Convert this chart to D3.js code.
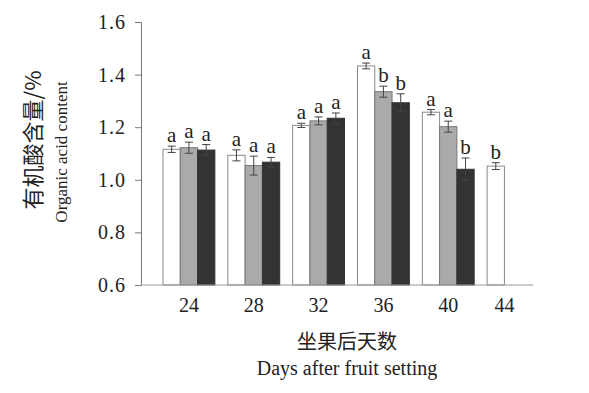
<!DOCTYPE html>
<html>
<head>
<meta charset="utf-8">
<script src="https://cdn.jsdelivr.net/npm/d3@7"></script>
<style>
  body { margin: 0; background: #fff; }
  text { font-family: "Liberation Serif", "Times New Roman", "Noto Sans CJK SC", serif; fill: #222; }
  .cjk { font-family: "Noto Sans CJK SC", serif; }
</style>
</head>
<body>
<svg id="chart" width="589" height="393"></svg>
<script>
// days after fruit setting
const days = ["24", "28", "32", "36", "40", "44"];
const series = ["s1", "s2", "s3"];

// organic acid content, one array per treatment (null = no bar)
const s1Values = [1.116, 1.093, 1.207, 1.433, 1.257, 1.052];
const s2Values = [1.122, 1.054, 1.224, 1.335, 1.202, null];
const s3Values = [1.113, 1.067, 1.234, 1.293, 1.040, null];

// error bars (half width)
const s1Err = [0.012, 0.021, 0.008, 0.011, 0.010, 0.013];
const s2Err = [0.021, 0.036, 0.015, 0.021, 0.021, null];
const s3Err = [0.021, 0.018, 0.020, 0.034, 0.043, null];

// significance letters
const s1Letters = ["a", "a", "a", "a", "a", "b"];
const s2Letters = ["a", "a", "a", "b", "a", null];
const s3Letters = ["a", "a", "a", "b", "b", null];

const yTicks = [0.6, 0.8, 1.0, 1.2, 1.4, 1.6];

const serif = '"Liberation Serif", "Times New Roman", serif';

const svg = d3.select("#chart");
const margin = {left: 141, right: 56, top: 22, bottom: 108};
const W = 589, H = 393;

// build rows from the arrays
const vals = [s1Values, s2Values, s3Values];
const errs = [s1Err, s2Err, s3Err];
const lets = [s1Letters, s2Letters, s3Letters];
const rows = [];
days.forEach((d, i) => {
  series.forEach((s, j) => {
    if (vals[j][i] != null) rows.push({day: d, s: s, v: vals[j][i], e: errs[j][i], l: lets[j][i]});
  });
});

const x = d3.scaleBand()
  .domain(days)
  .range([margin.left + 22, W - margin.right + 6])
  .paddingInner(0.2)
  .paddingOuter(0);

const xs = d3.scaleBand()
  .domain(series)
  .range([0, x.bandwidth()]);

const y = d3.scaleLinear()
  .domain([0.6, 1.6])
  .range([H - margin.bottom, margin.top]);

const fills = {s1: "#ffffff", s2: "#aaaaad", s3: "#333333"};
const strokes = {s1: "#8a8a8a", s2: "#777777", s3: "#333333"};

// bars
svg.append("g")
  .selectAll("rect")
  .data(rows)
  .join("rect")
  .attr("x", d => x(d.day) + xs(d.s))
  .attr("y", d => y(d.v))
  .attr("width", xs.bandwidth())
  .attr("height", d => y(0.6) - y(d.v))
  .attr("fill", d => fills[d.s])
  .attr("stroke", d => strokes[d.s])
  .attr("stroke-width", 1);

// error bars
const eb = svg.append("g").attr("stroke", "#444").attr("stroke-width", 1);
rows.forEach(d => {
  const cx = x(d.day) + xs(d.s) + xs.bandwidth() / 2;
  eb.append("line").attr("x1", cx).attr("x2", cx).attr("y1", y(d.v + d.e)).attr("y2", y(d.v - d.e));
  eb.append("line").attr("x1", cx - 4).attr("x2", cx + 4).attr("y1", y(d.v + d.e)).attr("y2", y(d.v + d.e));
  eb.append("line").attr("x1", cx - 4).attr("x2", cx + 4).attr("y1", y(d.v - d.e)).attr("y2", y(d.v - d.e));
});

// letters
svg.append("g")
  .selectAll("text")
  .data(rows)
  .join("text")
  .attr("x", d => x(d.day) + xs(d.s) + xs.bandwidth() / 2)
  .attr("y", d => y(d.v + d.e) - 4)
  .attr("text-anchor", "middle")
  .attr("font-size", 21)
  .style("font-family", serif)
  .text(d => d.l);

// y axis
const yAxis = svg.append("g")
  .attr("transform", `translate(${margin.left},0)`)
  .call(d3.axisLeft(y).tickValues(yTicks).tickFormat(d3.format(".1f")).tickSize(6).tickPadding(9))
  .attr("font-family", serif);
yAxis.select(".domain").attr("stroke", "#777");
yAxis.selectAll(".tick line").attr("stroke", "#777");
yAxis.selectAll("text")
  .style("font-family", serif)
  .style("font-size", "20px")
  .attr("letter-spacing", 1)
  .attr("fill", "#222");

// x axis (no ticks)
const xAxis = svg.append("g")
  .attr("transform", `translate(0,${y(0.6)})`)
  .call(d3.axisBottom(x).tickSize(0).tickPadding(13))
  .attr("font-family", serif);
xAxis.select(".domain").attr("stroke", "#999").attr("d", `M${margin.left},0H${W - margin.right}`);
xAxis.selectAll("text")
  .style("font-family", serif)
  .style("font-size", "20px")
  .attr("fill", "#222");
// 44 has a single bar; its label sits at the bar's right edge
xAxis.selectAll(".tick").filter(d => d === "44")
  .attr("transform", `translate(${x("44") + xs.bandwidth()},0)`);

// axis titles
svg.append("text")
  .attr("class", "cjk")
  .attr("transform", "translate(41,140) rotate(-90)")
  .attr("text-anchor", "middle")
  .attr("font-size", 22)
  .text("有机酸含量/%");
svg.append("text")
  .attr("transform", "translate(67,152) rotate(-90)")
  .attr("text-anchor", "middle")
  .attr("font-size", 17)
  .style("font-family", serif)
  .text("Organic acid content");

svg.append("text")
  .attr("class", "cjk")
  .attr("x", 347).attr("y", 349)
  .attr("text-anchor", "middle")
  .attr("font-size", 20)
  .text("坐果后天数");
svg.append("text")
  .attr("x", 347).attr("y", 375)
  .attr("text-anchor", "middle")
  .attr("font-size", 20)
  .style("font-family", serif)
  .text("Days after fruit setting");
</script>
</body>
</html>
